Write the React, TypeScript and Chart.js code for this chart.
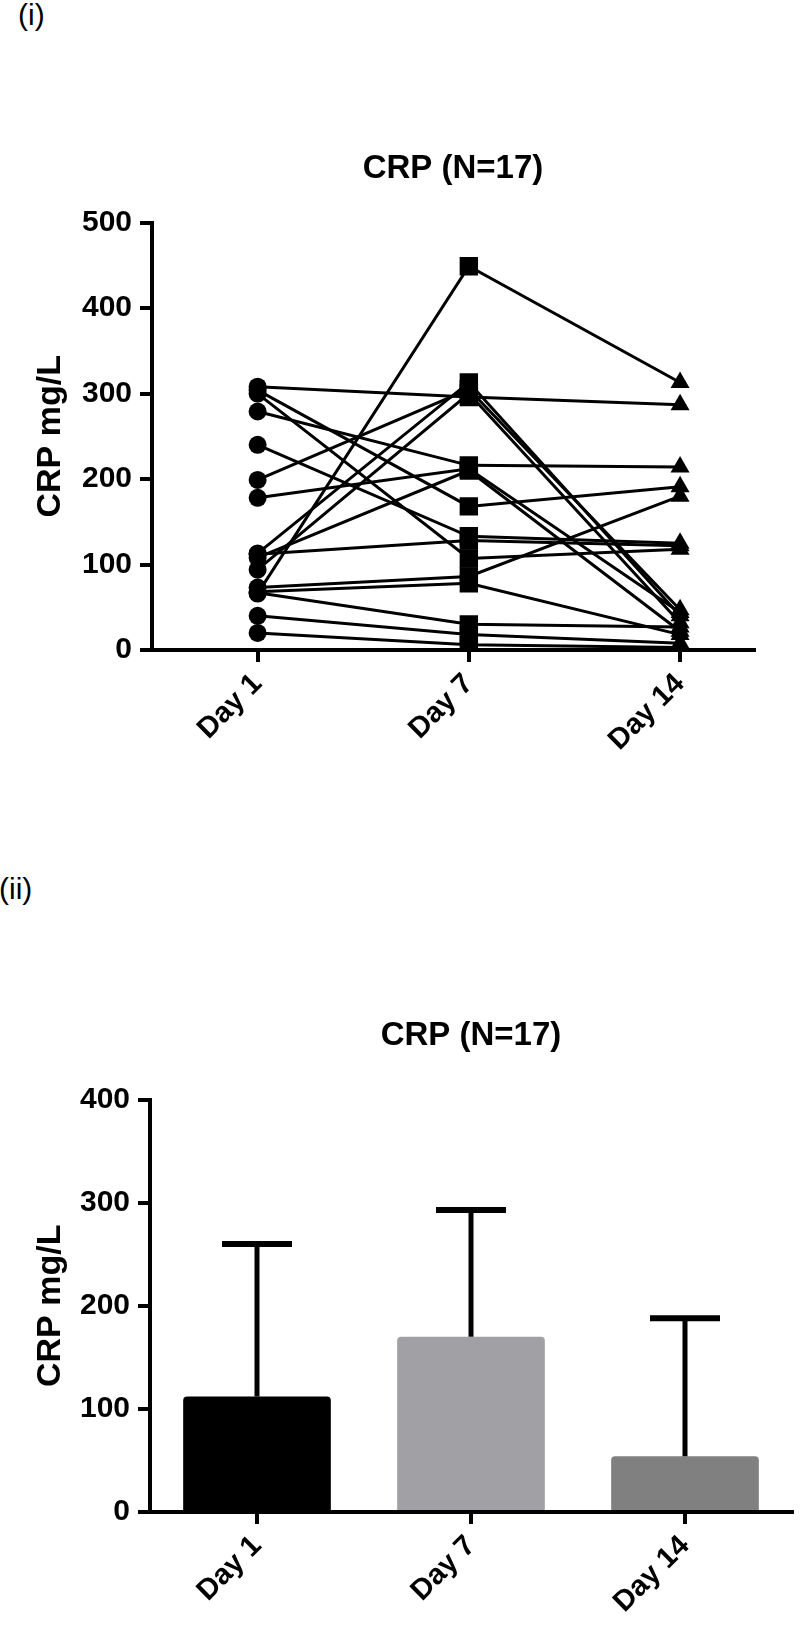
import React, { useEffect, useRef } from 'react';
import { Chart, registerables } from 'chart.js';

Chart.register(...registerables);

// ---------- data ----------
const DAYS = ['Day 1', 'Day 7', 'Day 14'];
const TOP_Y_TICKS = [0, 100, 200, 300, 400, 500];
const BOTTOM_Y_TICKS = [0, 100, 200, 300, 400];

// one entry per patient (N=17)
const day1Values = [308, 66, 199, 113, 94, 279, 178, 108, 304, 240, 112, 300, 73, 68, 67, 40, 20];
const day7Values = [296, 449, 305, 313, 300, 216, 212, 210, 168, 133, 128, 107, 86, 78, 30, 18, 6];
const day14Values = [287, 313, 47, 40, 32, 214, 44, 22, 191, 125, 122, 118, 180, 18, 27, 8, 3];

const meanValues = [112, 170, 54];
const sdValues = [148, 123, 134];
const barColors = ['#000000', '#a1a1a5', '#808080'];

const TITLE = 'CRP (N=17)';
const Y_TITLE = 'CRP mg/L';
const FONT = "'Liberation Sans', Arial, Helvetica, sans-serif";

function TopChart() {
  const ref = useRef<HTMLCanvasElement | null>(null);
  useEffect(() => {
    if (!ref.current) return;
    const datasets = day1Values.map((_, i) => ({
      data: [
        { x: 0, y: day1Values[i] },
        { x: 1, y: day7Values[i] },
        { x: 2, y: day14Values[i] },
      ],
      borderColor: '#000',
      backgroundColor: '#000',
      borderWidth: 3,
      pointStyle: ['circle', 'rect', 'triangle'],
      pointRadius: [9, 13, 11],
      pointBorderWidth: 0,
      pointBackgroundColor: '#000',
      tension: 0,
    }));
    const chart = new Chart(ref.current, {
      type: 'line',
      data: { datasets } as any,
      options: {
        animation: false,
        responsive: false,
        layout: { padding: { left: 0, right: 46, top: 0, bottom: 0 } },
        plugins: {
          legend: { display: false },
          tooltip: { enabled: false },
          title: {
            display: true,
            text: TITLE,
            color: '#000',
            fullSize: false,
            font: { family: FONT, size: 33, weight: 'bold' },
            padding: { top: 149, bottom: 34 },
          },
        },
        scales: {
          x: {
            type: 'linear',
            min: -0.5,
            max: 2.35,
            afterBuildTicks: (axis: any) => {
              axis.ticks = DAYS.map((_, i) => ({ value: i }));
            },
            afterFit: (s: any) => {
              s.height = 150;
            },
            ticks: {
              callback: (v: any) => DAYS[v] ?? '',
              minRotation: 45,
              maxRotation: 45,
              color: '#000',
              padding: 5,
              font: { family: FONT, size: 29, weight: 'bold' },
            },
            grid: { drawOnChartArea: false, tickLength: 12, lineWidth: 4, color: '#000' },
            border: { color: '#000', width: 4 },
          },
          y: {
            min: 0,
            max: 500,
            afterBuildTicks: (axis: any) => {
              axis.ticks = TOP_Y_TICKS.map((v) => ({ value: v }));
            },
            afterFit: (s: any) => {
              s.width = 152;
            },
            ticks: {
              color: '#000',
              padding: 8,
              font: { family: FONT, size: 30, weight: 'bold' },
            },
            grid: { drawOnChartArea: false, tickLength: 12, lineWidth: 4, color: '#000' },
            border: { color: '#000', width: 4 },
            title: {
              display: true,
              text: Y_TITLE,
              color: '#000',
              font: { family: FONT, size: 34, weight: 'bold' },
              padding: { top: 30, bottom: 0 },
            },
          },
        },
      } as any,
    });
    return () => chart.destroy();
  }, []);
  return (
    <canvas
      ref={ref}
      width={800}
      height={800}
      style={{ position: 'absolute', left: 0, top: 0, width: 800, height: 800 }}
    />
  );
}

const errorBarPlugin = {
  id: 'errorBars',
  afterDatasetsDraw(chart: any) {
    const meta = chart.getDatasetMeta(0);
    const yScale = chart.scales.y;
    const ctx = chart.ctx;
    ctx.save();
    ctx.strokeStyle = '#000';
    ctx.lineCap = 'butt';
    meta.data.forEach((bar: any, i: number) => {
      const x = bar.x;
      const base = yScale.getPixelForValue(meanValues[i]);
      const top = yScale.getPixelForValue(meanValues[i] + sdValues[i]);
      ctx.lineWidth = 5;
      ctx.beginPath();
      ctx.moveTo(x, base);
      ctx.lineTo(x, top);
      ctx.stroke();
      ctx.lineWidth = 6;
      ctx.beginPath();
      ctx.moveTo(x - 35, top);
      ctx.lineTo(x + 35, top);
      ctx.stroke();
    });
    ctx.restore();
  },
};

function BottomChart() {
  const ref = useRef<HTMLCanvasElement | null>(null);
  useEffect(() => {
    if (!ref.current) return;
    const chart = new Chart(ref.current, {
      type: 'bar',
      data: {
        labels: DAYS,
        datasets: [
          {
            data: meanValues,
            backgroundColor: barColors,
            borderWidth: 0,
            borderRadius: { topLeft: 4, topRight: 4, bottomLeft: 0, bottomRight: 0 },
            borderSkipped: false,
            categoryPercentage: 1,
            barPercentage: 0.69,
          },
        ],
      },
      options: {
        animation: false,
        responsive: false,
        layout: { padding: { left: 0, right: 8, top: 0, bottom: 0 } },
        plugins: {
          legend: { display: false },
          tooltip: { enabled: false },
          title: {
            display: true,
            text: TITLE,
            color: '#000',
            fullSize: false,
            font: { family: FONT, size: 33, weight: 'bold' },
            padding: { top: 36, bottom: 44 },
          },
        },
        scales: {
          x: {
            afterFit: (s: any) => {
              s.height = 129;
            },
            ticks: {
              minRotation: 45,
              maxRotation: 45,
              color: '#000',
              padding: 5,
              font: { family: FONT, size: 29, weight: 'bold' },
            },
            grid: { offset: false, drawOnChartArea: false, tickLength: 12, lineWidth: 4, color: '#000' },
            border: { color: '#000', width: 4 },
          },
          y: {
            min: 0,
            max: 400,
            afterBuildTicks: (axis: any) => {
              axis.ticks = BOTTOM_Y_TICKS.map((v) => ({ value: v }));
            },
            afterFit: (s: any) => {
              s.width = 150;
            },
            ticks: {
              color: '#000',
              padding: 8,
              font: { family: FONT, size: 30, weight: 'bold' },
            },
            grid: { drawOnChartArea: false, tickLength: 12, lineWidth: 4, color: '#000' },
            border: { color: '#000', width: 4 },
            title: {
              display: true,
              text: Y_TITLE,
              color: '#000',
              font: { family: FONT, size: 34, weight: 'bold' },
              padding: { top: 30, bottom: 0 },
            },
          },
        },
      } as any,
      plugins: [errorBarPlugin],
    });
    return () => chart.destroy();
  }, []);
  return (
    <canvas
      ref={ref}
      width={800}
      height={661}
      style={{ position: 'absolute', left: 0, top: 980, width: 800, height: 661 }}
    />
  );
}

export default function App() {
  const labelStyle: React.CSSProperties = {
    position: 'absolute',
    fontFamily: FONT,
    fontSize: 30,
    lineHeight: '30px',
    color: '#000',
    whiteSpace: 'nowrap',
  };
  return (
    <div
      style={{
        position: 'absolute',
        left: 0,
        top: 0,
        width: 800,
        height: 1641,
        background: '#fff',
        overflow: 'hidden',
      }}
    >
      <div style={{ ...labelStyle, left: 18, top: 0 }}>(i)</div>
      <div style={{ ...labelStyle, left: -1, top: 874 }}>(ii)</div>
      <TopChart />
      <BottomChart />
    </div>
  );
}
